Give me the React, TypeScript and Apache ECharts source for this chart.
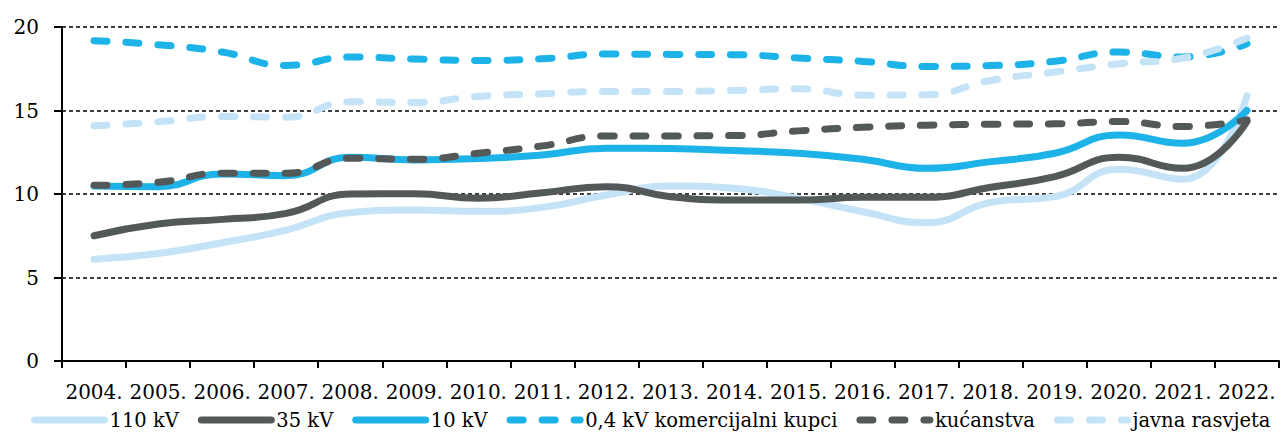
import React, { useEffect, useRef } from "react";
import * as echarts from "echarts";

const years = [
  "2004.", "2005.", "2006.", "2007.", "2008.", "2009.", "2010.", "2011.", "2012.", "2013.",
  "2014.", "2015.", "2016.", "2017.", "2018.", "2019.", "2020.", "2021.", "2022.",
];

const kv110 = [6.1, 6.44, 7.08, 7.84, 8.88, 9.04, 8.96, 9.2, 9.94, 10.48, 10.34, 9.74, 8.94, 8.28, 9.5, 9.84, 11.48, 10.88, 15.88];
const kv35 = [7.5, 8.2, 8.48, 8.84, 10.0, 10.02, 9.74, 10.08, 10.44, 9.84, 9.64, 9.64, 9.8, 9.8, 10.4, 11.04, 12.2, 11.54, 14.34];
const kv10 = [10.48, 10.44, 11.2, 11.1, 12.2, 12.04, 12.12, 12.34, 12.74, 12.72, 12.6, 12.44, 12.08, 11.54, 11.94, 12.44, 13.54, 13.04, 15.0];
const kv04 = [19.18, 18.94, 18.5, 17.7, 18.2, 18.08, 18.0, 18.1, 18.38, 18.36, 18.34, 18.14, 17.94, 17.64, 17.69, 17.95, 18.5, 18.2, 19.0];
const kucanstva = [10.52, 10.7, 11.24, 11.24, 12.14, 12.08, 12.44, 12.88, 13.48, 13.48, 13.5, 13.78, 14.0, 14.12, 14.18, 14.2, 14.34, 14.04, 14.44];
const javna = [14.08, 14.32, 14.64, 14.6, 15.52, 15.48, 15.84, 16.0, 16.14, 16.14, 16.2, 16.3, 15.92, 15.94, 16.8, 17.3, 17.8, 18.14, 19.34];

const yTicks = [0, 5, 10, 15, 20];

const LIGHT = "#c5e3f6";
const DARK = "#535858";
const BLUE = "#1db3e8";
const FONT = "DejaVu Serif";

function mk(name: string, data: number[], color: string, dashed: boolean) {
  return {
    name,
    type: "line",
    data,
    smooth: true,
    symbol: "none",
    showSymbol: false,
    lineStyle: {
      color,
      width: 7,
      type: dashed ? [13, 19] : "solid",
      cap: "round",
      join: "round",
    },
    itemStyle: { color },
    emphasis: { disabled: true },
  };
}

export default function App() {
  const ref = useRef<HTMLDivElement>(null);
  useEffect(() => {
    if (!ref.current) return;
    const chart = echarts.init(ref.current, null, { renderer: "svg" });
    const lbl = { fontFamily: FONT, fontSize: 20, color: "#000", fontWeight: "normal" };
    chart.setOption({
      animation: false,
      textStyle: { fontFamily: FONT, color: "#000" },
      grid: { left: 62, right: 2, top: 27, bottom: 72 },
      legend: {
        left: 31,
        top: 410,
        width: 1250,
        padding: 0,
        itemWidth: 70,
        itemHeight: 14,
        itemGap: 19,
        textStyle: { ...lbl, fontSize: 19.5 },
        lineStyle: { width: 7 },
        itemStyle: { opacity: 0 },
        selectedMode: false,
      },
      xAxis: {
        type: "category",
        data: years,
        boundaryGap: true,
        axisLine: { lineStyle: { color: "#000", width: 2 } },
        axisTick: { show: true, length: 7, lineStyle: { color: "#000", width: 2 } },
        axisLabel: { ...lbl, margin: 21, interval: 0 },
        splitLine: { show: false },
      },
      yAxis: {
        type: "value",
        min: yTicks[0],
        max: yTicks[yTicks.length - 1],
        interval: 5,
        axisLine: { show: true, lineStyle: { color: "#000", width: 2 } },
        axisTick: { show: true, length: 8, lineStyle: { color: "#000", width: 2 } },
        axisLabel: { ...lbl, margin: 23 },
        splitLine: { show: true, lineStyle: { color: "#000", width: 1.5, type: [4, 3] } },
      },
      series: [
        mk("110 kV", kv110, LIGHT, false),
        mk("35 kV", kv35, DARK, false),
        mk("10 kV", kv10, BLUE, false),
        mk("0,4 kV komercijalni kupci", kv04, BLUE, true),
        mk("kućanstva", kucanstva, DARK, true),
        mk("javna rasvjeta", javna, LIGHT, true),
      ],
    });
    return () => chart.dispose();
  }, []);
  return (
    <div
      ref={ref}
      style={{ position: "fixed", left: 0, top: 0, width: 1281, height: 433, background: "#fff" }}
    />
  );
}
